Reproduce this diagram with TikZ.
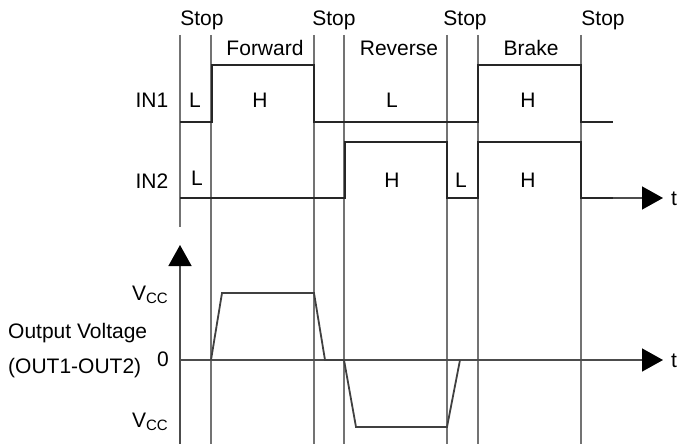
\documentclass[tikz,border=0pt]{standalone}
\usepackage{fontspec}
\setmainfont{Liberation Sans}
\usetikzlibrary{arrows.meta}

\begin{document}
\begin{tikzpicture}[
  x=1pt, y=-1pt,
  font=\fontsize{21}{24}\selectfont,
  grid/.style={draw=black!55, line width=1.8pt},
  wave/.style={draw=black!85, line width=2.6pt},
  outwave/.style={draw=black!75, line width=1.8pt},
  axis/.style={draw=black!70, line width=1.5pt, -{Triangle[width=23pt,length=21pt,color=black]}},
  lbl/.style={inner sep=0pt},
  sub/.style={inner sep=0pt, anchor=east}
]
\useasboundingbox (0,0) rectangle (677,444);

% time marks
\draw[grid] (180,35) -- (180,227);
\foreach \t in {211,314,344,447,478,581}
  \draw[grid] (\t,35) -- (\t,444);

\node[lbl] (stop1) at (202,20) {Stop};
\node[lbl] (stop2) at (334,20) {Stop};
\node[lbl] (stop3) at (465,20) {Stop};
\node[lbl] (stop4) at (603,20) {Stop};
\node[lbl] (fwd) at (265,48) {Forward};
\node[lbl] (rev) at (399,48) {Reverse};
\node[lbl] (brk) at (531,48) {Brake};

% IN1 / IN2
\node[lbl] (in1) at (152,100) {IN1};
\node[lbl] (in2) at (152,181) {IN2};
\draw[wave] (180,122) -- (212,122) -- (212,65) -- (314,65) -- (314,122)
  -- (478,122) -- (478,65) -- (581,65) -- (581,122) -- (613,122);
\draw[wave] (180,198) -- (345,198) -- (345,142) -- (447,142) -- (447,198)
  -- (478,198) -- (478,142) -- (581,142) -- (581,198) -- (613,198);
\draw[axis] (613,198) -- (663,198);
\node[lbl, anchor=west] (t1) at (671,199) {t};

\node[lbl] (l1a) at (195,100) {L};
\node[lbl] (h1a) at (260,100) {H};
\node[lbl] (l1b) at (392,100) {L};
\node[lbl] (h1b) at (528,100) {H};
\node[lbl] (l2a) at (197,178) {L};
\node[lbl] (h2a) at (392,180) {H};
\node[lbl] (l2b) at (461,180) {L};
\node[lbl] (h2b) at (528,180) {H};

% output voltage
\draw[axis] (180,444) -- (180,245);
\draw[axis] (180,360) -- (663,360);
\node[lbl, anchor=west] (t2) at (671,361) {t};
\draw[outwave] (211,360) -- (222,293) -- (314,293) -- (325,360) -- (344,360)
  -- (356,427) -- (447,427) -- (460,360);

\node[sub] (vcc1) at (168,295) {V{\fontsize{15}{15}\selectfont\raisebox{-3pt}{CC}}};
\node[sub] (vcc2) at (168,422) {V{\fontsize{15}{15}\selectfont\raisebox{-3pt}{CC}}};
\node[lbl] (zero) at (163,359) {0};
\node[lbl, anchor=west] (outv) at (8,333) {Output Voltage};
\node[lbl, anchor=west] (outd) at (8,368) {(OUT1-OUT2)};

\end{tikzpicture}
\end{document}
